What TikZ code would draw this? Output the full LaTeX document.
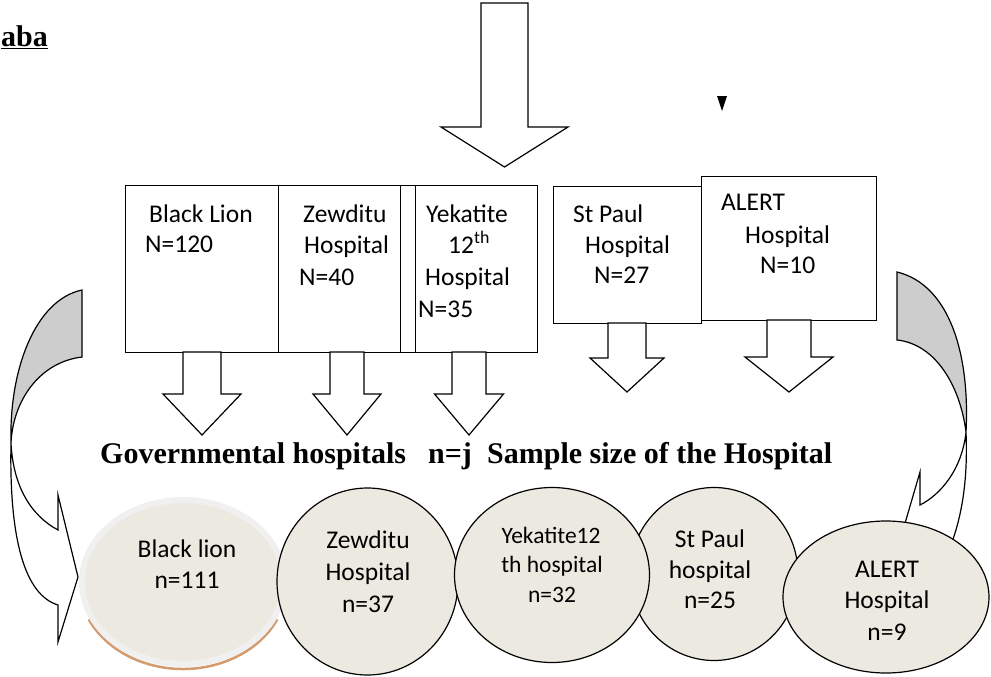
\documentclass[tikz,border=0pt]{standalone}
\usepackage{fontspec}
\setmainfont{Carlito}
\newfontfamily\headfont{Liberation Serif}
\usetikzlibrary{shapes.geometric}
\definecolor{backgray}{RGB}{205,205,205}
\definecolor{beige}{RGB}{236,234,224}
\definecolor{ringgray}{RGB}{240,240,240}
\definecolor{rimbrown}{RGB}{212,155,110}

\begin{document}
\begin{tikzpicture}[x=1pt,y=-1pt,
  box/.style={draw,line width=1.2pt,fill=white,inner sep=0pt,anchor=north west},
  txt/.style={anchor=base west,inner sep=0pt,font=\fontsize{25.5}{30}\selectfont},
  ctxt/.style={anchor=base,inner sep=0pt,font=\fontsize{25.5}{30}\selectfont},
  blk/.style={draw,line width=1.2pt,fill=white,line join=miter},
  curv/.style={draw,line width=1.2pt},
  hosp/.style={ellipse,draw,line width=1.2pt,fill=beige,inner sep=0pt},
  head/.style={anchor=base west,inner sep=0pt,font=\headfont\bfseries\fontsize{30}{36}\selectfont}]
  \useasboundingbox (0,0) rectangle (991,677);

  \node[head] (aba) at (1,47) {\underline{aba}};
  \fill (717,96) -- (727,96) -- (722,111) -- cycle;

  % boxes
  \node[box,minimum width=153pt,minimum height=167pt] (bl) at (125,185) {};
  \node[box,minimum width=122pt,minimum height=167pt] (zw) at (278,185) {};
  \node[box,minimum width=15pt,minimum height=167pt] (gap) at (400,185) {};
  \node[box,minimum width=122pt,minimum height=167pt] (yk) at (415,185) {};
  \node[box,minimum width=148pt,minimum height=137pt] (sp) at (553,186) {};
  \node[box,minimum width=175pt,minimum height=144pt] (al) at (701,176) {};

  \node[txt] (bl1) at (149,222) {Black Lion};
  \node[txt] (bl2) at (145,252) {N=120};
  \node[txt] (zw1) at (303,222) {Zewditu};
  \node[txt] (zw2) at (304,253) {Hospital};
  \node[txt] (zw3) at (299,285) {N=40};
  \node[txt] (yk1) at (426,222) {Yekatite};
  \node[txt] (yk2) at (448,253) {12\textsuperscript{th}};
  \node[txt] (yk3) at (425,285) {Hospital};
  \node[txt] (yk4) at (418,317) {N=35};
  \node[txt] (sp1) at (573,222) {St Paul};
  \node[txt] (sp2) at (585,253) {Hospital};
  \node[txt] (sp3) at (594,283) {N=27};
  \node[txt] (al1) at (721,210) {ALERT};
  \node[txt] (al2) at (745,243) {Hospital};
  \node[txt] (al3) at (760,273) {N=10};

  % block arrows
  \foreach \cx/\ty/\sw/\hw/\hb/\tp in {504.5/3/23.5/63.5/127/167, 202/352/19/39/394/435,
      347/352/17/34/394/435, 469/352/17/34.5/394/435, 627/323/19/37/358/392, 789/320/22/44/357/392}
    \draw[blk] (\cx-\sw,\ty) -- (\cx-\sw,\hb) -- (\cx-\hw,\hb) -- (\cx,\tp)
      -- (\cx+\hw,\hb) -- (\cx+\sw,\hb) -- (\cx+\sw,\ty) -- cycle;

  \node[head] (gov) at (100,463) {Governmental hospitals};
  \node[head] (nj) at (428,463) {n=j};
  \node[head] (ss) at (487,463) {Sample size of the Hospital};

  % curved arrows
  \draw[curv,fill=backgray] (82,290) -- (82,357) .. controls (40,362) and (13,400) .. (11,443)
    .. controls (9,370) and (35,300) .. (82,290) -- cycle;
  \draw[curv,fill=white] (11,443) .. controls (9,540) and (25,595) .. (58,605) -- (58,642)
    -- (78,577) -- (58,495) -- (58,530) .. controls (30,515) and (13,485) .. (11,443) -- cycle;
  \draw[curv,fill=backgray] (897,272) -- (897,340) .. controls (935,344) and (960,385) .. (966,432)
    .. controls (970,355) and (950,285) .. (897,272) -- cycle;
  \draw[curv,fill=white] (966,432) .. controls (968,480) and (962,515) .. (951,545) -- (935,575)
    -- (889,578) -- (920,472) -- (920,505) .. controls (940,495) and (962,470) .. (966,432) -- cycle;

  % sample ellipses
  \draw[rimbrown,line width=2.5pt] (183,583) ++(25:104 and 86) arc[start angle=25,end angle=155,x radius=104,y radius=86];
  \fill[beige] (183,582) ellipse[x radius=101,y radius=82];
  \draw[ringgray,line width=6pt] (183,582) ellipse[x radius=101,y radius=82];
  \node[hosp,minimum width=181pt,minimum height=187pt] (e2) at (367.5,581.5) {};
  \node[hosp,minimum width=168pt,minimum height=173pt] (e4) at (714,574) {};
  \node[hosp,minimum width=195pt,minimum height=175pt] (e3) at (552,575) {};
  \node[hosp,minimum width=206pt,minimum height=152pt] (e5) at (886,597) {};

  \node[ctxt] (c11) at (187,557) {Black lion};
  \node[ctxt] (c12) at (187,588) {n=111};
  \node[ctxt] (c21) at (368,548) {Zewditu};
  \node[ctxt] (c22) at (368,580) {Hospital};
  \node[ctxt] (c23) at (368,612) {n=37};
  \node[ctxt,font=\fontsize{23.5}{28}\selectfont] (c31) at (551,543) {Yekatite12};
  \node[ctxt,font=\fontsize{23.5}{28}\selectfont] (c32) at (552,572) {th hospital};
  \node[ctxt,font=\fontsize{23.5}{28}\selectfont] (c33) at (552,602) {n=32};
  \node[ctxt] (c41) at (710,547) {St Paul};
  \node[ctxt] (c42) at (710,578) {hospital};
  \node[ctxt] (c43) at (710,608) {n=25};
  \node[ctxt] (c51) at (887,577) {ALERT};
  \node[ctxt] (c52) at (887,608) {Hospital};
  \node[ctxt] (c53) at (887,640) {n=9};
\end{tikzpicture}
\end{document}
